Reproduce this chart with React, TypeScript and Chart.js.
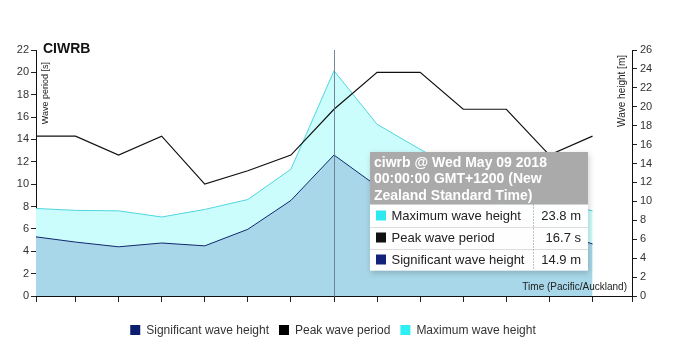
import React, { useEffect, useRef } from "react";
import { Chart, registerables } from "chart.js";

Chart.register(...registerables);

// ---- data ----
const hoursFromMay09 = [-41.5, -36, -30, -24, -18, -12, -6, 0, 6, 12, 18, 24, 30, 36];
const significantWaveHeight = [6.25, 5.7, 5.2, 5.6, 5.3, 7.05, 10.1, 14.9, 11.6, 11.0, 10.3, 9.2, 7.0, 5.5];
const peakWavePeriod = [14.3, 14.3, 12.6, 14.3, 10.0, 11.2, 12.6, 16.7, 20.0, 20.0, 16.7, 16.7, 12.6, 14.3];
const maximumWaveHeight = [9.25, 9.05, 9.0, 8.35, 9.15, 10.2, 13.4, 23.8, 18.15, 15.5, 13.0, 11.5, 10.0, 9.0];
const timeTickHours = [-41.5, -36, -30, -24, -18, -12, -6, 0, 6, 12, 18, 24, 30, 36, 41.5];
const periodRange = [0, 22];
const heightRange = [0, 26];
const selectedIndex = 7;
const stationTitle = "CIWRB";
const stationId = "ciwrb";
const selectedTimeText = "Wed May 09 2018 00:00:00 GMT+1200 (New Zealand Standard Time)";
const periodAxisTitle = "Wave period [s]";
const heightAxisTitle = "Wave height [m]";
const timeAxisTitle = "Time (Pacific/Auckland)";
const seriesNames = ["Significant wave height", "Peak wave period", "Maximum wave height"];
const seriesUnits = ["m", "s", "m"];

// ---- styles ----
const FONT = '"Liberation Sans", Arial, sans-serif';
const SIG_LINE = "#13286e";
const SIG_FILL = "#a7d7e8";
const PEAK_LINE = "#111111";
const MAX_LINE = "#4fd6dc";
const MAX_FILL = "#ccfdfd";
const LEG_COLORS = ["#0c1f6e", "#000000", "#2ef0f4"];
const TIP_COLORS = ["#2ee8f0", "#111111", "#13237a"];

function wrapText(ctx: CanvasRenderingContext2D, text: string, maxW: number) {
  const words = text.split(" ");
  const lines: string[] = [];
  let cur = "";
  for (const w of words) {
    const t = cur ? cur + " " + w : w;
    if (ctx.measureText(t).width > maxW && cur) {
      lines.push(cur);
      cur = w;
    } else cur = t;
  }
  if (cur) lines.push(cur);
  return lines;
}

const overlayPlugin = {
  id: "waveOverlay",
  afterDatasetsDraw(chart: any) {
    const { ctx, chartArea } = chart;
    const cx = Math.round(chart.scales.x.getPixelForValue(hoursFromMay09[selectedIndex])) + 0.5;
    ctx.save();
    ctx.strokeStyle = "rgba(95,115,135,0.85)";
    ctx.lineWidth = 1;
    ctx.beginPath();
    ctx.moveTo(cx, chartArea.top);
    ctx.lineTo(cx, chartArea.bottom);
    ctx.stroke();
    ctx.restore();
  },
  afterDraw(chart: any) {
    const { ctx, chartArea } = chart;
    ctx.save();
    // station title
    ctx.fillStyle = "#111";
    ctx.font = `bold 14px ${FONT}`;
    ctx.textAlign = "left";
    ctx.textBaseline = "alphabetic";
    ctx.fillText(stationTitle, chartArea.left + 7, chartArea.top + 3);

    // axis titles
    ctx.fillStyle = "#222";
    ctx.textBaseline = "middle";
    ctx.save();
    ctx.font = `9px ${FONT}`;
    ctx.translate(chartArea.left + 10, chartArea.top + 12);
    ctx.rotate(-Math.PI / 2);
    ctx.textAlign = "right";
    ctx.fillText(periodAxisTitle, 0, 0);
    ctx.restore();
    ctx.font = `10px ${FONT}`;
    ctx.save();
    ctx.translate(chartArea.right - 10, chartArea.top + 5);
    ctx.rotate(-Math.PI / 2);
    ctx.textAlign = "right";
    ctx.fillText(heightAxisTitle, 0, 0);
    ctx.restore();
    ctx.textAlign = "right";
    ctx.fillText(timeAxisTitle, chartArea.right - 5, chartArea.bottom - 9);

    // legend
    ctx.font = `12px ${FONT}`;
    const gap = 10;
    const widths = seriesNames.map((n) => 10 + 6 + ctx.measureText(n).width);
    const total = widths.reduce((a, b) => a + b, 0) + gap * (widths.length - 1);
    let lx = (chartArea.left + chartArea.right) / 2 - total / 2 - 1;
    const ly = chartArea.bottom + 33;
    seriesNames.forEach((n, i) => {
      ctx.fillStyle = LEG_COLORS[i];
      ctx.fillRect(lx, ly - 4, 10, 10);
      ctx.fillStyle = "#333";
      ctx.textAlign = "left";
      ctx.textBaseline = "middle";
      ctx.fillText(n, lx + 16, ly + 1.5);
      lx += widths[i] + gap;
    });

    // tooltip
    const px = chart.scales.x.getPixelForValue(hoursFromMay09[selectedIndex]);
    const tx = Math.round(px) + 36;
    const ty = chartArea.top + 102;
    const tw = 218;
    ctx.font = `bold 14px ${FONT}`;
    const titleLines = wrapText(ctx, `${stationId} @ ${selectedTimeText}`, tw - 10);
    const lineH = 16.5;
    const titleH = titleLines.length * lineH + 3;
    const rowH = 22;
    const rows = [
      { name: seriesNames[2], val: maximumWaveHeight[selectedIndex], unit: seriesUnits[2], color: TIP_COLORS[0] },
      { name: seriesNames[1], val: peakWavePeriod[selectedIndex], unit: seriesUnits[1], color: TIP_COLORS[1] },
      { name: seriesNames[0], val: significantWaveHeight[selectedIndex], unit: seriesUnits[0], color: TIP_COLORS[2] },
    ];
    const th = titleH + rows.length * rowH;
    ctx.save();
    ctx.shadowColor = "rgba(0,0,0,0.22)";
    ctx.shadowBlur = 6;
    ctx.shadowOffsetX = 1;
    ctx.shadowOffsetY = 2;
    ctx.fillStyle = "rgba(255,255,255,0.88)";
    ctx.fillRect(tx, ty, tw, th);
    ctx.restore();
    ctx.fillStyle = "rgba(255,255,255,0.88)";
    ctx.fillRect(tx, ty + titleH, tw, rows.length * rowH);
    ctx.fillStyle = "#aaaaaa";
    ctx.fillRect(tx, ty, tw, titleH);
    ctx.fillStyle = "#ffffff";
    ctx.textAlign = "left";
    ctx.textBaseline = "middle";
    titleLines.forEach((l, i) => ctx.fillText(l, tx + 4, ty + 11 + i * lineH));
    ctx.font = `13px ${FONT}`;
    const colX = tx + 163.5;
    rows.forEach((r, i) => {
      const ry = ty + titleH + i * rowH;
      if (i > 0) {
        ctx.strokeStyle = "#dddddd";
        ctx.lineWidth = 1;
        ctx.beginPath();
        ctx.moveTo(tx, Math.round(ry) + 0.5);
        ctx.lineTo(tx + tw, Math.round(ry) + 0.5);
        ctx.stroke();
      }
      ctx.fillStyle = r.color;
      ctx.fillRect(tx + 6, ry + rowH / 2 - 5, 10, 10);
      ctx.fillStyle = "#222";
      ctx.textAlign = "left";
      ctx.fillText(r.name, tx + 21.5, ry + rowH / 2 + 0.5);
      ctx.textAlign = "right";
      ctx.fillText(`${r.val.toFixed(1)} ${r.unit}`, tx + tw - 7, ry + rowH / 2 + 0.5);
    });
    ctx.strokeStyle = "#888";
    ctx.setLineDash([1, 2]);
    ctx.beginPath();
    ctx.moveTo(colX, ty + titleH);
    ctx.lineTo(colX, ty + th);
    ctx.stroke();
    ctx.setLineDash([]);
    ctx.restore();
  },
};

export default function App() {
  const ref = useRef<HTMLCanvasElement | null>(null);
  useEffect(() => {
    if (!ref.current) return;
    const pts = (arr: number[]) => arr.map((v, i) => ({ x: hoursFromMay09[i], y: v }));
    const chart = new Chart(ref.current, {
      type: "line",
      data: {
        datasets: [
          {
            label: seriesNames[0],
            data: pts(significantWaveHeight),
            yAxisID: "yH",
            borderColor: SIG_LINE,
            backgroundColor: SIG_FILL,
            borderWidth: 1,
            fill: "origin",
            pointRadius: 0,
            tension: 0,
            order: 1,
          },
          {
            label: seriesNames[1],
            data: pts(peakWavePeriod),
            yAxisID: "yP",
            borderColor: PEAK_LINE,
            borderWidth: 1.2,
            fill: false,
            pointRadius: 0,
            tension: 0,
            order: 0,
          },
          {
            label: seriesNames[2],
            data: pts(maximumWaveHeight),
            yAxisID: "yH",
            borderColor: MAX_LINE,
            backgroundColor: MAX_FILL,
            borderWidth: 1,
            fill: "origin",
            pointRadius: 0,
            tension: 0,
            order: 2,
          },
        ],
      },
      options: {
        responsive: false,
        animation: false,
        events: [],
        layout: { padding: { top: 50, bottom: 52, left: 0, right: 0 } },
        plugins: { legend: { display: false }, tooltip: { enabled: false }, title: { display: false } },
        scales: {
          x: {
            type: "linear",
            min: timeTickHours[0],
            max: timeTickHours[timeTickHours.length - 1],
            afterBuildTicks: (s: any) => {
              s.ticks = timeTickHours.map((v) => ({ value: v }));
            },
            afterFit: (s: any) => {
              s.height = 8;
            },
            ticks: { display: false },
            grid: { drawOnChartArea: false, drawTicks: true, tickLength: 6, color: "#222", lineWidth: 1 },
            border: { display: true, color: "#111", width: 1 },
          },
          yP: {
            position: "left",
            min: periodRange[0],
            max: periodRange[1],
            ticks: { stepSize: 2, padding: 2, color: "#333", font: { family: FONT, size: 11 } },
            grid: { drawOnChartArea: false, drawTicks: true, tickLength: 5, color: "#222" },
            border: { display: true, color: "#111", width: 1 },
            afterFit: (s: any) => {
              s.width = 36;
            },
          },
          yH: {
            position: "right",
            min: heightRange[0],
            max: heightRange[1],
            ticks: { stepSize: 2, padding: 3, color: "#333", font: { family: FONT, size: 11 } },
            grid: { drawOnChartArea: false, drawTicks: true, tickLength: 5, color: "#222" },
            border: { display: true, color: "#111", width: 1 },
            afterFit: (s: any) => {
              s.width = 64;
            },
          },
        },
      },
      plugins: [overlayPlugin],
    } as any);
    return () => chart.destroy();
  }, []);
  return (
    <div style={{ position: "absolute", left: 0, top: 0, width: 696, height: 356, background: "#fff" }}>
      <canvas ref={ref} width={696} height={356} style={{ display: "block", width: 696, height: 356 }} />
    </div>
  );
}
